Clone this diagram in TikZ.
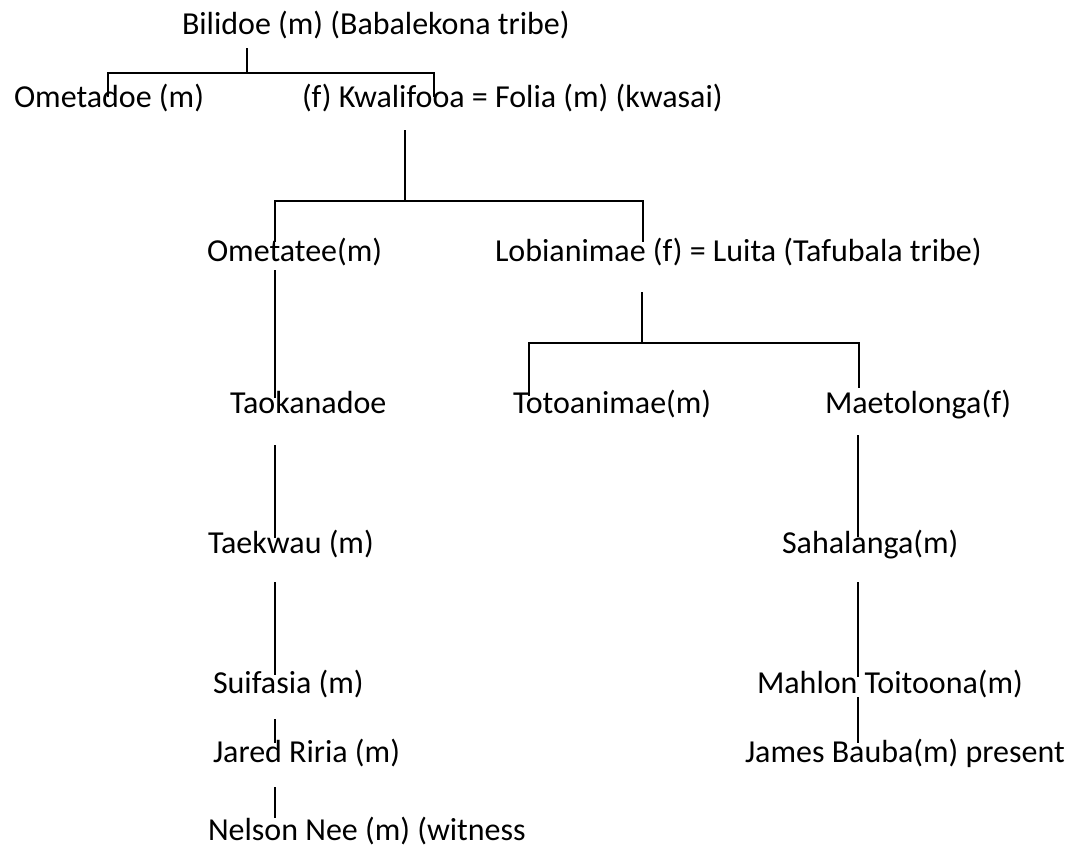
\documentclass[tikz,border=0pt]{standalone}
\usepackage{fontspec}
\setmainfont{Carlito}
\begin{document}
\begin{tikzpicture}[x=1pt,y=-1pt,
  person/.style={anchor=base west,inner sep=0pt,outer sep=0pt,font=\fontsize{32}{38}\selectfont},
  link/.style={line width=1.6pt,line cap=butt}]
\useasboundingbox[fill=white] (0,0) rectangle (1075,852);
% people
\node[person] (bil) at (182,34) {Bilidoe (m) (Babalekona tribe)};
\node[person] (omd) at (14,107) {Ometadoe (m)};
\node[person] (kwa) at (302,107) {(f) Kwalifooa = Folia (m) (kwasai)};
\node[person] (omt) at (207,261) {Ometatee(m)};
\node[person] (lob) at (495,261) {Lobianimae (f) = Luita (Tafubala tribe)};
\node[person] (tao) at (230,413) {Taokanadoe};
\node[person] (tot) at (513,413) {Totoanimae(m)};
\node[person] (mae) at (825,413) {Maetolonga(f)};
\node[person] (tae) at (208,553) {Taekwau (m)};
\node[person] (sah) at (782,553) {Sahalanga(m)};
\node[person] (sui) at (213,693) {Suifasia (m)};
\node[person] (mah) at (757,693) {Mahlon Toitoona(m)};
\node[person] (jar) at (213,762) {Jared Riria (m)};
\node[person] (jam) at (745,762) {James Bauba(m) present};
\node[person] (nel) at (208,840) {Nelson Nee (m) (witness};
% connector points
\coordinate (b0) at (247,48);
\coordinate (b1) at (247,73);
\coordinate (bl) at (108,73);
\coordinate (br) at (434,73);
\coordinate (bld) at (108,97);
\coordinate (brd) at (434,97);
\coordinate (k0) at (405,130);
\coordinate (k1) at (405,201);
\coordinate (kl) at (275,201);
\coordinate (kr) at (643,201);
\coordinate (kld) at (275,242);
\coordinate (krd) at (643,242);
\coordinate (o0) at (275,270);
\coordinate (o1) at (275,398);
\coordinate (l0) at (642,292);
\coordinate (l1) at (642,343);
\coordinate (ll) at (529,343);
\coordinate (lr) at (859,343);
\coordinate (lld) at (529,396);
\coordinate (lrd) at (859,388);
\coordinate (t0) at (275,445);
\coordinate (t1) at (275,538);
\coordinate (t2) at (275,582);
\coordinate (t3) at (275,675);
\coordinate (t4) at (275,719);
\coordinate (t5) at (275,743);
\coordinate (t6) at (275,787);
\coordinate (t7) at (275,818);
\coordinate (m0) at (858,435);
\coordinate (m1) at (858,537);
\coordinate (m2) at (858,582);
\coordinate (m3) at (858,677);
\coordinate (m4) at (858,697);
\coordinate (m5) at (858,743);
% connectors
\draw[link] (b0) -- (b1);
\draw[link] (bld) -- (bl) -- (br) -- (brd);
\draw[link] (k0) -- (k1);
\draw[link] (kld) -- (kl) -- (kr) -- (krd);
\draw[link] (o0) -- (o1);
\draw[link] (l0) -- (l1);
\draw[link] (lld) -- (ll) -- (lr) -- (lrd);
\draw[link] (t0) -- (t1);
\draw[link] (t2) -- (t3);
\draw[link] (t4) -- (t5);
\draw[link] (t6) -- (t7);
\draw[link] (m0) -- (m1);
\draw[link] (m2) -- (m3);
\draw[link] (m4) -- (m5);
\end{tikzpicture}
\end{document}
